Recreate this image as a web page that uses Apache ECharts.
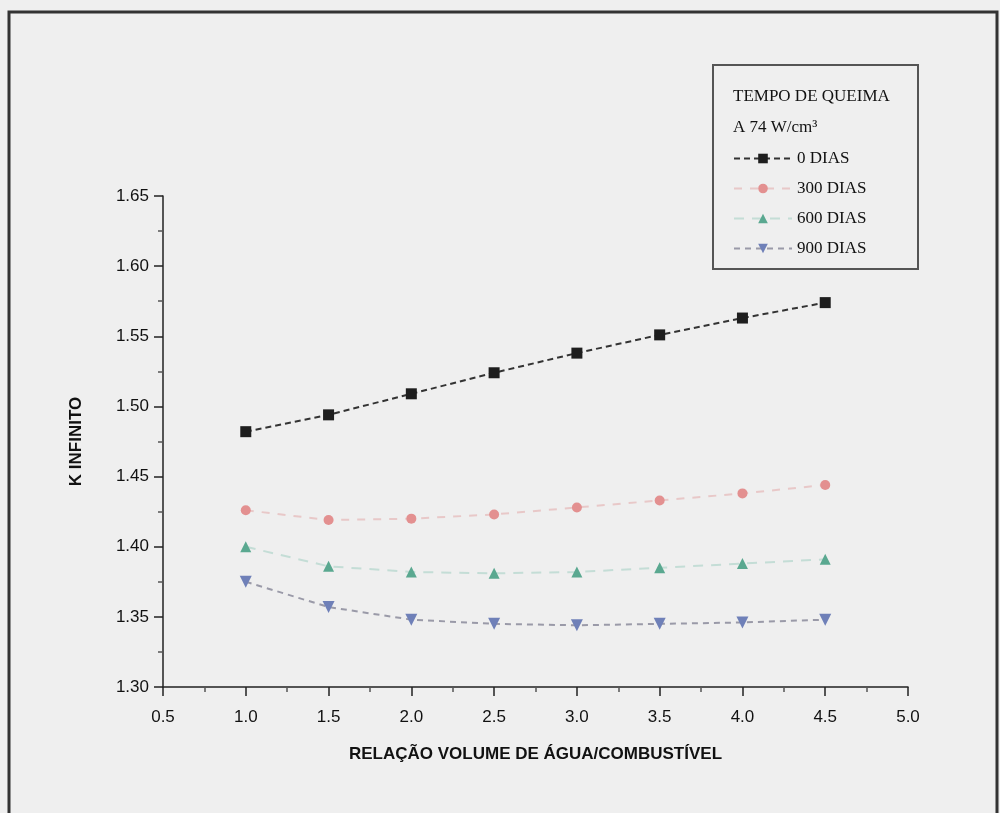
<!DOCTYPE html>
<html>
<head>
<meta charset="utf-8">
<script src="https://cdn.jsdelivr.net/npm/echarts@6/dist/echarts.min.js"></script>
<style>
html,body{margin:0;padding:0;background:#efefef;}
#c{width:1000px;height:813px;}
</style>
</head>
<body>
<div id="c"></div>
<script>
var xValues = [1.0, 1.5, 2.0, 2.5, 3.0, 3.5, 4.0, 4.5];
var seriesNames = ['0 DIAS', '300 DIAS', '600 DIAS', '900 DIAS'];
var dias0   = [1.482, 1.494, 1.509, 1.524, 1.538, 1.551, 1.563, 1.574];
var dias300 = [1.426, 1.419, 1.420, 1.423, 1.428, 1.433, 1.438, 1.444];
var dias600 = [1.400, 1.386, 1.382, 1.381, 1.382, 1.385, 1.388, 1.391];
var dias900 = [1.375, 1.357, 1.348, 1.345, 1.344, 1.345, 1.346, 1.348];
var xTicks = [0.5, 1.0, 1.5, 2.0, 2.5, 3.0, 3.5, 4.0, 4.5, 5.0];
var yTicks = [1.30, 1.35, 1.40, 1.45, 1.50, 1.55, 1.60, 1.65];

function pairs(ys){ return xValues.map(function(x,i){ return [x, ys[i]]; }); }

var chart = echarts.init(document.getElementById('c'), null, {renderer:'canvas'});
var axisFont = {fontFamily:'Liberation Sans', fontSize:17, color:'#111'};
var option = {
  backgroundColor:'#efefef',
  animation:false,
  grid:{left:163, right:92, top:196, bottom:126},
  xAxis:{
    type:'value', min:0.5, max:5.0, interval:0.5,
    name:'RELAÇÃO VOLUME DE ÁGUA/COMBUSTÍVEL', nameLocation:'middle', nameGap:59,
    nameTextStyle:{fontFamily:'Liberation Sans', fontSize:17, fontWeight:'bold', color:'#111'},
    axisLine:{show:true, lineStyle:{color:'#222', width:1.5}},
    axisTick:{show:true, length:9, lineStyle:{color:'#222', width:1.5}},
    minorTick:{show:true, splitNumber:2, length:5, lineStyle:{color:'#555', width:1.5}},
    splitLine:{show:false},
    axisLabel:Object.assign({margin:22, formatter:function(v){return v.toFixed(1);}}, axisFont)
  },
  yAxis:{
    type:'value', min:1.30, max:1.65, interval:0.05,
    name:'K INFINITO', nameLocation:'middle', nameGap:78, nameRotate:90,
    nameTextStyle:{fontFamily:'Liberation Sans', fontSize:17, fontWeight:'bold', color:'#111'},
    axisLine:{show:true, lineStyle:{color:'#222', width:1.5}},
    axisTick:{show:true, length:9, lineStyle:{color:'#222', width:1.5}},
    minorTick:{show:true, splitNumber:2, length:5, lineStyle:{color:'#555', width:1.5}},
    splitLine:{show:false},
    axisLabel:Object.assign({margin:14, formatter:function(v){return v.toFixed(2);}}, axisFont)
  },
  legend:{
    orient:'vertical', left:728, top:145,
    itemWidth:58, itemHeight:12, itemGap:13,
    textStyle:{fontFamily:'Liberation Serif', fontSize:17, color:'#111'},
    data:seriesNames
  },
  series:[
    {name:seriesNames[0], type:'line', data:pairs(dias0), symbol:'rect', symbolSize:11,
     itemStyle:{color:'#1e1e1e'}, lineStyle:{color:'#333', width:2, type:[6,4]}},
    {name:seriesNames[1], type:'line', data:pairs(dias300), symbol:'circle', symbolSize:10,
     itemStyle:{color:'#e39090'}, lineStyle:{color:'#e8c8c8', width:2, type:[8,8]}},
    {name:seriesNames[2], type:'line', data:pairs(dias600), symbol:'triangle', symbolSize:11,
     itemStyle:{color:'#5aa890'}, lineStyle:{color:'#c4ddd6', width:2, type:[10,8]}},
    {name:seriesNames[3], type:'line', data:pairs(dias900), symbol:'triangle', symbolSize:12, symbolRotate:180,
     itemStyle:{color:'#6f80b8'}, lineStyle:{color:'#9a9aa8', width:2, type:[6,5]}}
  ],
  graphic:[
    {type:'rect', shape:{x:9, y:12, width:988, height:820}, style:{fill:null, stroke:'#333', lineWidth:3}, silent:true},
    {type:'rect', shape:{x:713, y:65, width:205, height:204}, style:{fill:null, stroke:'#555', lineWidth:2}, silent:true},
    {type:'text', left:733, top:88, style:{text:'TEMPO DE QUEIMA', font:'17px "Liberation Serif"', fill:'#111'}},
    {type:'text', left:733, top:119, style:{text:'A 74 W/cm³', font:'17px "Liberation Serif"', fill:'#111'}}
  ]
};
chart.setOption(option);
</script>
</body>
</html>
